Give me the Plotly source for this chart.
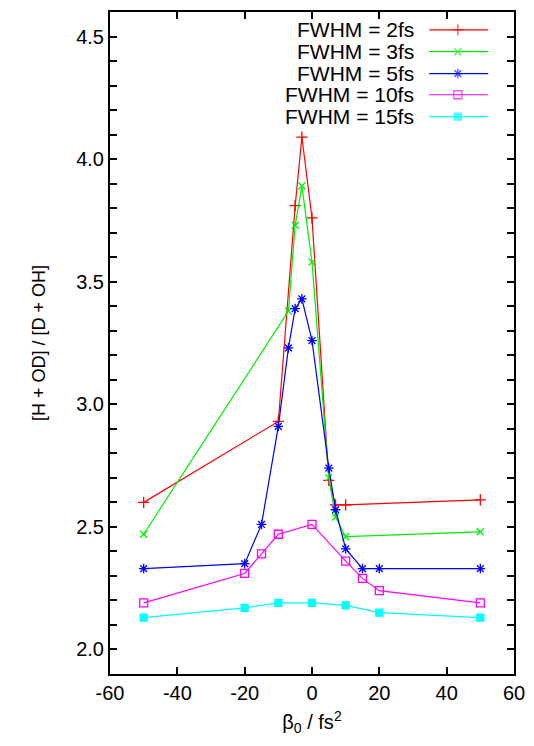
import plotly.graph_objects as go

# ---- data ----
labels = ["FWHM = 2fs", "FWHM = 3fs", "FWHM = 5fs", "FWHM = 10fs", "FWHM = 15fs"]

x_2fs = [-50, -10, -5, -3, 0, 5, 7, 10, 50]
y_2fs = [2.60, 2.93, 3.81, 4.09, 3.76, 2.69, 2.59, 2.59, 2.61]

x_3fs = [-50, -7, -5, -3, 0, 5, 7, 10, 50]
y_3fs = [2.47, 3.38, 3.73, 3.89, 3.58, 2.70, 2.54, 2.46, 2.48]

x_5fs = [-50, -20, -15, -10, -7, -5, -3, 0, 5, 7, 10, 15, 20, 50]
y_5fs = [2.33, 2.35, 2.51, 2.91, 3.23, 3.39, 3.43, 3.26, 2.74, 2.57, 2.41, 2.33, 2.33, 2.33]

x_10fs = [-50, -20, -15, -10, 0, 10, 15, 20, 50]
y_10fs = [2.19, 2.31, 2.39, 2.47, 2.51, 2.36, 2.29, 2.24, 2.19]

x_15fs = [-50, -20, -10, 0, 10, 20, 50]
y_15fs = [2.13, 2.17, 2.19, 2.19, 2.18, 2.15, 2.13]

x_ticks = [-60, -40, -20, 0, 20, 40, 60]
y_ticks = [2.0, 2.5, 3.0, 3.5, 4.0, 4.5]

# ---- styles ----
colors = ["#ff0000", "#00ee00", "#0000ff", "#ff00ff", "#00ffff"]
symbols = ["cross-thin", "x-thin", "asterisk", "square-open", "square"]
msizes = [8, 7, 8, 8, 7]
series = [(x_2fs, y_2fs), (x_3fs, y_3fs), (x_5fs, y_5fs), (x_10fs, y_10fs), (x_15fs, y_15fs)]

FONT = "Liberation Sans, Arial, sans-serif"

fig = go.Figure()
for (xs, ys), c, s, ms, name in zip(series, colors, symbols, msizes, labels):
    fig.add_trace(go.Scatter(
        x=xs, y=ys, mode="lines+markers", name=name, showlegend=False,
        line=dict(color=c, width=1.2),
        marker=dict(symbol=s, size=ms, color=c, line=dict(color=c, width=1.3)),
    ))

# ---- custom legend (text left, sample right, as in the reference) ----
rows = [0.973, 0.940, 0.907, 0.875, 0.842]
for ry, c, s, ms, name in zip(rows, colors, symbols, msizes, labels):
    fig.add_trace(go.Scatter(
        x=[0.790, 0.861, 0.936], y=[ry, ry, ry], xaxis="x2", yaxis="y2",
        mode="lines+markers", showlegend=False, hoverinfo="skip",
        line=dict(color=c, width=1.2),
        marker=dict(symbol=s, size=[0, ms, 0], color=c, line=dict(color=c, width=1.3)),
    ))
    fig.add_annotation(x=0.757, y=ry, xref="x2", yref="y2", text=name,
                       showarrow=False, xanchor="right", yanchor="middle",
                       font=dict(family=FONT, size=21, color="black"))

axis_common = dict(
    showline=True, linecolor="black", linewidth=2, mirror="ticks",
    ticks="inside", ticklen=7, tickwidth=1.5, tickcolor="black",
    showgrid=False, zeroline=False,
    tickfont=dict(family=FONT, size=20, color="black"),
)

fig.update_layout(
    width=526, height=738,
    margin=dict(l=102, r=20, t=2, b=72),
    paper_bgcolor="white", plot_bgcolor="white",
    font=dict(family=FONT, size=20, color="black"),
    xaxis=dict(range=[-60, 60], tickvals=x_ticks, ticktext=[str(v) for v in x_ticks],
               title=dict(text="β<sub>0</sub> / fs<sup>2</sup>", standoff=12,
                          font=dict(family=FONT, size=20)),
               **axis_common),
    yaxis=dict(range=[1.9, 4.6], tickvals=y_ticks, ticktext=[f"{v:.1f}" for v in y_ticks],
               minor=dict(dtick=0.1, tick0=0, ticks="inside", ticklen=7, tickwidth=1.5,
                          tickcolor="black", showgrid=False),
               title=dict(text="[H + OD] / [D + OH]", standoff=26,
                          font=dict(family=FONT, size=18)),
               **axis_common),
    xaxis2=dict(overlaying="x", range=[0, 1], visible=False, fixedrange=True),
    yaxis2=dict(overlaying="y", range=[0, 1], visible=False, fixedrange=True),
)

fig.write_html("out.html")
